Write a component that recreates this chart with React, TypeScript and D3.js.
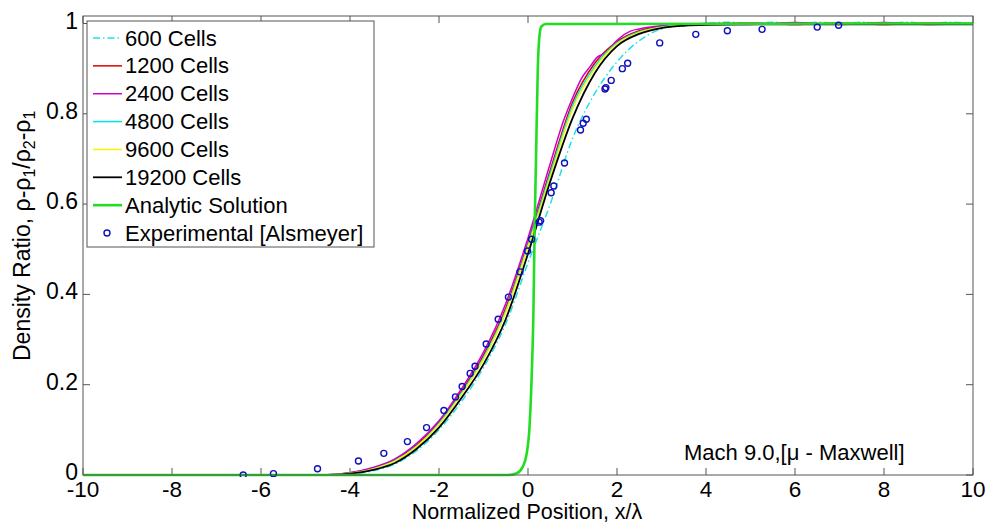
import React from 'react';
import * as d3 from 'd3';

const xTicks = [-10, -8, -6, -4, -2, 0, 2, 4, 6, 8, 10];
const yTicks = [0, 0.2, 0.4, 0.6, 0.8, 1];
const yTickLabels = ['0', '0.2', '0.4', '0.6', '0.8', '1'];

const legendLabels = ['600 Cells', '1200 Cells', '2400 Cells', '4800 Cells', '9600 Cells', '19200 Cells', 'Analytic Solution', 'Experimental [Alsmeyer]'];

const cells600X = [-10, -6, -4.5, -4, -3.5, -3, -2.5, -2, -1.5, -1, -0.5, 0, 0.5, 1, 1.5, 2, 2.5, 3, 3.5, 4, 4.5, 5, 5.5, 6, 6.5, 7, 7.5, 8, 8.5, 9, 9.5, 10];
const cells600Y = [0, 0, 0, 0.002, 0.009, 0.024, 0.054, 0.1, 0.162, 0.238, 0.335, 0.47, 0.6, 0.745, 0.845, 0.915, 0.962, 0.988, 0.996, 1.0, 1.003, 0.999, 1.003, 0.999, 1.003, 0.999, 1.003, 0.999, 1.003, 0.999, 1.003, 1.0];

const cells1200X = [-10, -6, -4.5, -4, -3.5, -3, -2.5, -2, -1.5, -1, -0.5, 0, 0.5, 1, 1.5, 2, 2.5, 3, 3.5, 4, 5, 6, 7, 8, 9, 10];
const cells1200Y = [0, 0, 0.0005, 0.005, 0.015, 0.033, 0.067, 0.117, 0.185, 0.265, 0.37, 0.515, 0.675, 0.825, 0.912, 0.96, 0.984, 0.994, 0.998, 0.999, 1.001, 0.998, 1.001, 0.998, 1.001, 1.0];

const cells2400X = [-10, -6, -4.5, -4, -3.5, -3, -2.5, -2, -1.5, -1, -0.5, 0, 0.5, 0.8, 1, 1.2, 1.4, 1.55, 1.75, 2, 2.3, 2.5, 3, 3.5, 4, 5, 6, 7, 8, 9, 10];
const cells2400Y = [0, 0, 0.0005, 0.005, 0.016, 0.035, 0.07, 0.12, 0.19, 0.272, 0.38, 0.525, 0.69, 0.785, 0.835, 0.878, 0.905, 0.925, 0.935, 0.963, 0.983, 0.988, 0.995, 0.998, 1.0, 0.998, 1.002, 0.998, 1.002, 0.998, 1.0];

const cells4800X = [-10, -6, -4.5, -4, -3.5, -3, -2.5, -2, -1.5, -1, -0.5, 0, 0.5, 1, 1.5, 2, 2.5, 3, 3.5, 4, 5, 6, 7, 8, 9, 10];
const cells4800Y = [0, 0, 0.0004, 0.004, 0.013, 0.031, 0.064, 0.114, 0.181, 0.26, 0.364, 0.51, 0.668, 0.818, 0.905, 0.957, 0.982, 0.992, 0.997, 0.999, 1.0, 0.999, 1.0, 0.999, 1.0, 1.0];

const cells9600X = [-10, -6, -4.5, -4, -3.5, -3, -2.5, -2, -1.5, -1, -0.5, 0, 0.5, 1, 1.5, 2, 2.5, 3, 3.5, 4, 5, 6, 7, 8, 9, 10];
const cells9600Y = [0, 0, 0.0003, 0.004, 0.013, 0.03, 0.063, 0.112, 0.178, 0.256, 0.36, 0.505, 0.66, 0.81, 0.9, 0.955, 0.98, 0.991, 0.996, 0.998, 0.999, 0.999, 0.999, 0.999, 0.999, 0.999];

const cells19200X = [-10, -6, -4.5, -4, -3.5, -3, -2.5, -2, -1.5, -1, -0.5, 0, 0.5, 1, 1.5, 2, 2.5, 3, 3.5, 4, 5, 6, 7, 8, 9, 10];
const cells19200Y = [0, 0, 0, 0.003, 0.011, 0.026, 0.058, 0.105, 0.17, 0.245, 0.345, 0.49, 0.65, 0.79, 0.89, 0.95, 0.977, 0.99, 0.995, 0.997, 0.998, 0.998, 0.998, 0.998, 0.998, 0.998];

const analyticX = [-10, -0.45, -0.25, -0.12, -0.03, 0.03, 0.08, 0.12, 0.15, 0.18, 0.22, 0.26, 0.3, 0.4, 10];
const analyticY = [0, 0, 0.004, 0.018, 0.047, 0.1, 0.21, 0.35, 0.55, 0.7, 0.9, 0.975, 0.993, 0.999, 1.0];

const expX = [-6.4, -5.72, -4.73, -3.81, -3.24, -2.71, -2.28, -1.89, -1.63, -1.48, -1.3, -1.19, -0.94, -0.67, -0.44, -0.18, -0.01, 0.08, 0.25, 0.28, 0.52, 0.58, 0.82, 1.18, 1.24, 1.31, 1.73, 1.75, 1.87, 2.12, 2.24, 2.96, 3.77, 4.48, 5.26, 6.5, 6.98];
const expY = [0.0, 0.003, 0.014, 0.031, 0.048, 0.074, 0.105, 0.143, 0.173, 0.196, 0.225, 0.241, 0.29, 0.345, 0.394, 0.45, 0.496, 0.522, 0.56, 0.563, 0.625, 0.64, 0.691, 0.764, 0.779, 0.788, 0.855, 0.858, 0.874, 0.9, 0.912, 0.957, 0.976, 0.984, 0.987, 0.992, 0.996];

const FONT = '"Liberation Sans", Arial, Helvetica, sans-serif';

export default function App() {
  const W = 988, H = 525;
  const left = 83, right = 973, top = 16, bottom = 475;
  const x = d3.scaleLinear().domain([-10, 10]).range([left, right]);
  const y = d3.scaleLinear().domain([0, (bottom - top) / 451.5]).range([bottom, top]);

  const line = d3.line<[number, number]>().x(d => x(d[0])).y(d => y(d[1])).curve(d3.curveMonotoneX);
  const zip = (a: number[], b: number[]) => a.map((v, i) => [v, b[i]] as [number, number]);

  const series = [
    { xs: cells600X, ys: cells600Y, color: '#22e0e0', width: 1.5, dash: '7,3,1.5,3' },
    { xs: cells1200X, ys: cells1200Y, color: '#dd0000', width: 1.5, dash: '' },
    { xs: cells2400X, ys: cells2400Y, color: '#cc00cc', width: 1.5, dash: '' },
    { xs: cells4800X, ys: cells4800Y, color: '#00e5e5', width: 1.5, dash: '' },
    { xs: cells9600X, ys: cells9600Y, color: '#f5f500', width: 1.5, dash: '' },
    { xs: cells19200X, ys: cells19200Y, color: '#000000', width: 1.8, dash: '' },
    { xs: analyticX, ys: analyticY, color: '#22dd22', width: 2.6, dash: '' },
  ];

  const axisColor = '#555';
  const tickLen = 7;

  const legX = 87, legY = 21, legW = 287, legH = 226;
  const legRow0 = 38, legStep = 27.86;

  return (
    <svg width={W} height={H} style={{ position: 'absolute', left: 0, top: 0, background: '#fff' }} fontFamily={FONT}>
      <defs>
        <clipPath id="plotClip">
          <rect x={left} y={top} width={right - left} height={bottom - top + 2} />
        </clipPath>
      </defs>
      <rect x={0} y={0} width={W} height={H} fill="#fff" />
      <rect x={left} y={top} width={right - left} height={bottom - top} fill="#fff" />

      {xTicks.map((t, i) => (
        <g key={'xt' + i}>
          <line x1={x(t)} x2={x(t)} y1={bottom} y2={bottom - tickLen} stroke={axisColor} strokeWidth={1} />
          <line x1={x(t)} x2={x(t)} y1={top} y2={top + tickLen} stroke={axisColor} strokeWidth={1} />
          <text x={x(t)} y={497} textAnchor="middle" fontSize={22.5} fill="#000">{t}</text>
        </g>
      ))}
      {yTicks.map((t, i) => (
        <g key={'yt' + i}>
          <line x1={left} x2={left + tickLen} y1={y(t)} y2={y(t)} stroke={axisColor} strokeWidth={1} />
          <line x1={right} x2={right - tickLen} y1={y(t)} y2={y(t)} stroke={axisColor} strokeWidth={1} />
          <text x={78} y={y(t) - 3} textAnchor="end" dominantBaseline="central" fontSize={23} fill="#000">{yTickLabels[i]}</text>
        </g>
      ))}

      <g clipPath="url(#plotClip)">
        {series.map((s, i) => (
          <path key={'s' + i} d={line(zip(s.xs, s.ys)) || ''} fill="none" stroke={s.color} strokeWidth={s.width} strokeDasharray={s.dash || undefined} />
        ))}
        {expX.map((v, i) => (
          <circle key={'e' + i} cx={x(v)} cy={y(expY[i])} r={3} fill="none" stroke="#1010c0" strokeWidth={1.4} />
        ))}
      </g>

      <rect x={left} y={top} width={right - left} height={bottom - top} fill="none" stroke={axisColor} strokeWidth={1} />

      <rect x={legX} y={legY} width={legW} height={legH} fill="#fff" stroke={axisColor} strokeWidth={1} />
      {legendLabels.map((lab, i) => {
        const ly = legRow0 + i * legStep;
        const s = series[i];
        return (
          <g key={'l' + i}>
            {s ? (
              <line x1={93} x2={122} y1={ly} y2={ly} stroke={s.color} strokeWidth={s.width} strokeDasharray={s.dash || undefined} />
            ) : (
              <circle cx={107} cy={ly} r={3} fill="none" stroke="#1010c0" strokeWidth={1.4} />
            )}
            <text x={125} y={ly} dominantBaseline="central" fontSize={22} fill="#000">{lab}</text>
          </g>
        );
      })}

      <text x={684} y={460} fontSize={22} fill="#000">Mach 9.0,[μ - Maxwell]</text>

      <text x={527} y={519} textAnchor="middle" fontSize={21.5} fill="#000">Normalized Position, x/λ</text>
      <text transform="translate(30,361) rotate(-90)" textAnchor="start" fontSize={23} fill="#000">
        Density Ratio, ρ-ρ<tspan fontSize={16} dy={5}>1</tspan>
        <tspan dy={-5}>/ρ</tspan><tspan fontSize={16} dy={5}>2</tspan>
        <tspan dy={-5}>-ρ</tspan><tspan fontSize={16} dy={5}>1</tspan>
      </text>
    </svg>
  );
}
